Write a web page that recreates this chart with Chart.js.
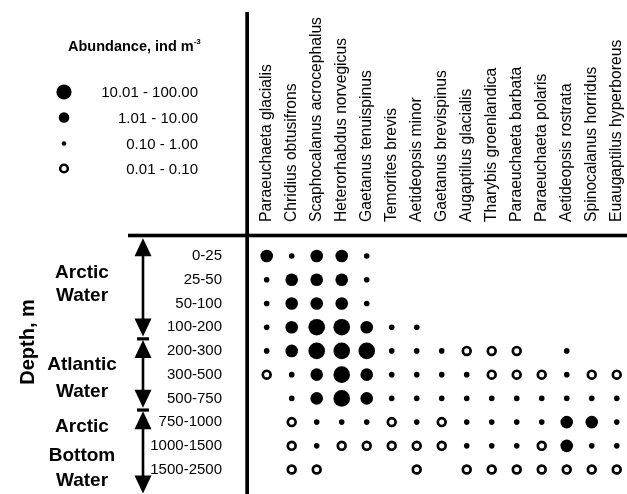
<!DOCTYPE html>
<html>
<head>
<meta charset="utf-8">
<script src="https://cdn.jsdelivr.net/npm/chart.js@4.4.1/dist/chart.umd.min.js"></script>
<style>
  html, body { margin: 0; padding: 0; background: #fff; }
  #wrap { position: relative; width: 627px; height: 494px; overflow: hidden; }
  #chart { position: absolute; left: 0; top: 0; }
  #labels { position: absolute; left: 0; top: 0; pointer-events: none; }
  #labels text { font-family: "Liberation Sans", Arial, sans-serif; fill: #000; }
</style>
</head>
<body>
<div id="wrap">
  <canvas id="chart" width="627" height="494"></canvas>
  <svg id="labels" width="627" height="494">
    <text x="68" y="51" font-size="14.5" font-weight="bold">Abundance, ind m<tspan font-size="8" dy="-7">-3</tspan></text>
    <text x="198" y="97" font-size="15" text-anchor="end">10.01 - 100.00</text>
    <text x="198" y="123" font-size="15" text-anchor="end">1.01 - 10.00</text>
    <text x="198" y="149" font-size="15" text-anchor="end">0.10 - 1.00</text>
    <text x="198" y="174" font-size="15" text-anchor="end">0.01 - 0.10</text>

    <text transform="translate(33.5,342) rotate(-90)" font-size="20" font-weight="bold" text-anchor="middle">Depth, m</text>

    <text x="82" y="278" font-size="19" font-weight="bold" text-anchor="middle">Arctic</text>
    <text x="82" y="301" font-size="19" font-weight="bold" text-anchor="middle">Water</text>
    <text x="82" y="370" font-size="19" font-weight="bold" text-anchor="middle">Atlantic</text>
    <text x="82" y="397" font-size="19" font-weight="bold" text-anchor="middle">Water</text>
    <text x="82" y="432" font-size="19" font-weight="bold" text-anchor="middle">Arctic</text>
    <text x="82" y="461" font-size="19" font-weight="bold" text-anchor="middle">Bottom</text>
    <text x="82" y="486" font-size="19" font-weight="bold" text-anchor="middle">Water</text>
  </svg>
</div>
<script>
// species (columns)
const species = [
  'Paraeuchaeta glacialis', 'Chridius obtusifrons', 'Scaphocalanus acrocephalus',
  'Heterorhabdus norvegicus', 'Gaetanus tenuispinus', 'Temorites brevis',
  'Aetideopsis minor', 'Gaetanus brevispinus', 'Augaptilus glacialis',
  'Tharybis groenlandica', 'Paraeuchaeta barbata', 'Paraeuchaeta polaris',
  'Aetideopsis rostrata', 'Spinocalanus horridus', 'Euaugaptilus hyperboreus'
];

// depth layers (rows)
const depthLayers = ['0-25', '25-50', '50-100', '100-200', '200-300', '300-500',
  '500-750', '750-1000', '1000-1500', '1500-2500'];

// layers per water mass, top to bottom (Arctic Water, Atlantic Water, Arctic Bottom Water)
const waterMassLayers = [4, 3, 3];

// abundance classes, ind m-3
const abundanceClasses = ['10.01 - 100.00', '1.01 - 10.00', '0.10 - 1.00', '0.01 - 0.10'];
const classCodes = [4, 3, 2, 1];

// class per species for each layer: 4 = 10.01-100, 3 = 1.01-10, 2 = 0.10-1, 1 = 0.01-0.10, 0 = absent
const d0_25      = [3, 2, 3, 3, 2, 0, 0, 0, 0, 0, 0, 0, 0, 0, 0];
const d25_50     = [2, 3, 3, 3, 2, 0, 0, 0, 0, 0, 0, 0, 0, 0, 0];
const d50_100    = [2, 3, 3, 3, 2, 0, 0, 0, 0, 0, 0, 0, 0, 0, 0];
const d100_200   = [2, 3, 4, 4, 3, 2, 2, 0, 0, 0, 0, 0, 0, 0, 0];
const d200_300   = [2, 3, 4, 4, 4, 2, 2, 2, 1, 1, 1, 0, 2, 0, 0];
const d300_500   = [1, 2, 3, 4, 3, 2, 2, 2, 2, 1, 1, 1, 2, 1, 1];
const d500_750   = [0, 2, 3, 4, 3, 2, 2, 2, 2, 2, 2, 2, 2, 2, 2];
const d750_1000  = [0, 1, 2, 2, 2, 1, 2, 1, 2, 2, 2, 2, 3, 3, 2];
const d1000_1500 = [0, 1, 2, 1, 1, 1, 1, 1, 2, 2, 2, 1, 3, 2, 2];
const d1500_2500 = [0, 1, 1, 0, 0, 0, 1, 0, 1, 1, 1, 1, 1, 1, 1];

const grid = [d0_25, d25_50, d50_100, d100_200, d200_300, d300_500,
  d500_750, d750_1000, d1000_1500, d1500_2500];

// marker styles per class
const styles = {
  4: { r: 8.3, fill: '#000', bw: 0 },
  3: { r: 6.3, fill: '#000', bw: 0 },
  2: { r: 2.8, fill: '#000', bw: 0 },
  1: { r: 3.9, fill: '#fff', bw: 2.7 }
};

const datasets = classCodes.map((code, k) => {
  const pts = [];
  grid.forEach((row, yi) => {
    row.forEach((c, xi) => {
      if (c === code) pts.push({ x: xi, y: yi });
    });
  });
  return {
    label: abundanceClasses[k],
    data: pts,
    pointRadius: styles[code].r,
    pointHoverRadius: styles[code].r,
    pointBackgroundColor: styles[code].fill,
    pointBorderColor: '#000',
    pointBorderWidth: styles[code].bw,
    showLine: false,
    clip: false
  };
});

// frame lines, water-mass arrows, legend symbols
const decor = {
  id: 'decor',
  afterDraw(chart) {
    const ctx = chart.ctx;
    const area = chart.chartArea;
    const ys = chart.scales.y;
    ctx.save();
    ctx.fillStyle = '#000';
    ctx.strokeStyle = '#000';

    // thick frame lines
    ctx.fillRect(area.left - 8.7, 12, 3.7, chart.height - 12);
    ctx.fillRect(128, 233.7, chart.width - 128, 3.6);

    // arrows
    const ax = 143;
    const bounds = [238.3];
    let acc = 0;
    waterMassLayers.forEach((n, i) => {
      acc += n;
      bounds.push(i === waterMassLayers.length - 1 ? 493.5 : ys.getPixelForValue(acc - 0.5) - 1.5);
    });
    const head = (tipY, dir) => {
      ctx.beginPath();
      ctx.moveTo(ax, tipY);
      ctx.lineTo(ax - 8.5, tipY + dir * 18);
      ctx.lineTo(ax + 8.5, tipY + dir * 18);
      ctx.closePath();
      ctx.fill();
    };
    for (let i = 0; i < waterMassLayers.length; i++) {
      const t = bounds[i] + (i === 0 ? 0 : 2.5);
      const b = bounds[i + 1] - (i === waterMassLayers.length - 1 ? 0 : 1);
      ctx.fillRect(ax - 1.3, t + 10, 2.6, b - t - 20);
      head(t, 1);
      head(b, -1);
      if (i > 0) ctx.fillRect(ax - 6, bounds[i] - 0.3, 12, 3.2);
    }

    // legend symbols
    const lx = 64;
    const ly = [92, 117.5, 143.5, 168.5];
    const lr = [7.6, 5.3, 2.3, 3.8];
    classCodes.forEach((code, k) => {
      ctx.beginPath();
      ctx.arc(lx, ly[k], lr[k], 0, Math.PI * 2);
      if (code === 1) {
        ctx.fillStyle = '#fff';
        ctx.fill();
        ctx.lineWidth = 2.6;
        ctx.stroke();
        ctx.fillStyle = '#000';
      } else {
        ctx.fill();
      }
    });
    ctx.restore();
  }
};

Chart.defaults.font.family = '"Liberation Sans", Arial, sans-serif';
Chart.defaults.color = '#000';

const noPad = s => { s.paddingLeft = 0; s.paddingRight = 0; s.paddingTop = 0; s.paddingBottom = 0; };

new Chart(document.getElementById('chart'), {
  type: 'scatter',
  data: { datasets },
  options: {
    responsive: false,
    animation: false,
    events: [],
    layout: { padding: 0, autoPadding: false },
    plugins: { legend: { display: false }, tooltip: { enabled: false } },
    scales: {
      x: {
        type: 'linear',
        position: 'top',
        min: -0.508,
        max: 14.41,
        grid: { display: false, drawTicks: false },
        border: { display: false },
        afterBuildTicks: s => { s.ticks = species.map((_, i) => ({ value: i })); },
        afterFit: s => { s.height = 240; noPad(s); },
        ticks: {
          autoSkip: false,
          minRotation: 90,
          maxRotation: 90,
          padding: 18,
          labelOffset: 19,
          font: { size: 15.7 },
          callback: v => species[v]
        }
      },
      y: {
        type: 'linear',
        reverse: true,
        min: -0.675,
        max: 10.03,
        grid: { display: false, drawTicks: false },
        border: { display: false },
        afterBuildTicks: s => { s.ticks = depthLayers.map((_, i) => ({ value: i })); },
        afterFit: s => { s.width = 254; noPad(s); },
        ticks: {
          autoSkip: false,
          padding: 32,
          font: { size: 15 },
          callback: v => depthLayers[v]
        }
      }
    }
  },
  plugins: [decor]
});
</script>
</body>
</html>
